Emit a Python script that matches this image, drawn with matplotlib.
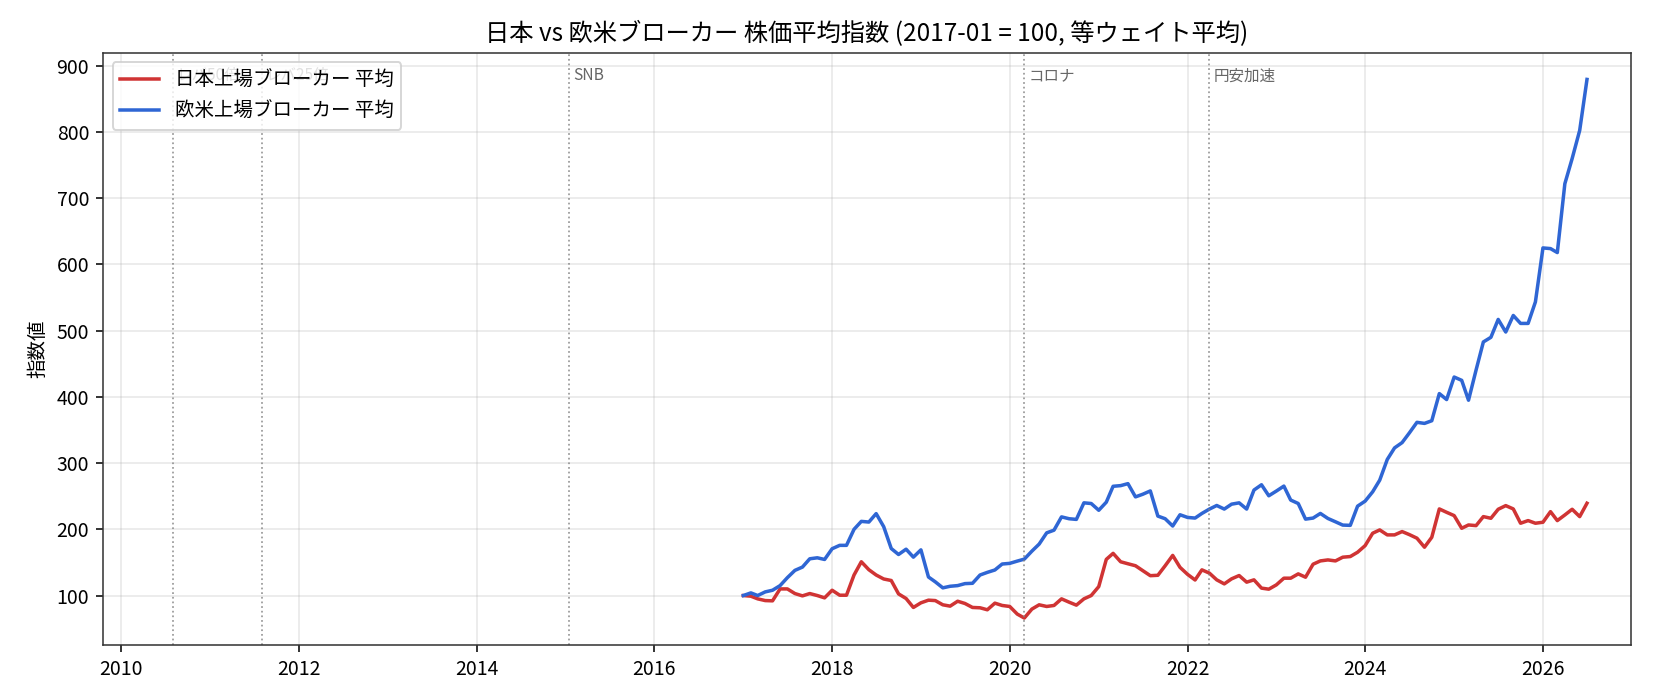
import pandas as pd
import matplotlib
matplotlib.use('Agg')
import matplotlib.pyplot as plt
import matplotlib.dates as mdates
from datetime import datetime

plt.rcParams['font.family'] = ['Noto Sans CJK JP', 'DejaVu Sans']
plt.rcParams['axes.unicode_minus'] = False
plt.rcParams['axes.edgecolor'] = '#333333'

####################################
# Data (monthly, 2017-01 = 100)
####################################

months = pd.date_range('2017-01-01', '2026-07-01', freq='MS')

jp_avg = [
    100, 99, 95, 92.4, 92, 110, 110, 103, 99.5, 103, 100, 96.5,
    108, 100.5, 100.5, 131, 151, 139, 131, 125, 122.7, 102.5, 95.5, 82,
    89, 93, 92.4, 86, 84, 91.4, 88, 82, 81.5, 78.5, 88.5, 85,
    83.5, 72, 66, 79.5, 86, 83.5, 85, 95, 90, 85.5, 95, 100,
    113.5, 154.6, 163.7, 151, 148, 145, 137.6, 130, 130.6, 145, 160.6, 142.6,
    132, 123.5, 138.8, 133.8, 123.7, 117.6, 125.2, 130.2, 120.2, 123.7, 111.2, 109.6,
    116.1, 126.2, 126.2, 132.7, 127.7, 147.3, 152.3, 153.8, 152.3, 157.9, 158.9, 165.4,
    175.4, 194.1, 199.1, 191.6, 191.6, 196.6, 192, 186.6, 173, 188, 230.8, 225.7,
    220.7, 201.6, 206.6, 205.6, 219.2, 216.7, 230.3, 235.8, 230.8, 209.2, 213.2, 209.2,
    210.7, 226.7, 213.2, 221.7, 230.3, 219.2, 239.4,
]

west_avg = [
    100, 104, 100, 105.5, 108, 115, 127, 138, 143, 155.5, 157, 154.5,
    170.7, 175.8, 175.8, 200, 212, 211, 223.7, 204, 171, 162, 170, 158,
    169, 128, 120.7, 111.6, 114, 115, 118, 118.5, 131, 135, 138.6, 147.6,
    148.6, 152, 155, 167, 177.7, 194.7, 198.7, 218.8, 216, 215, 240, 239,
    228.8, 241, 265, 266, 269, 249, 253, 258, 220, 216, 205, 222,
    218, 217, 224, 230.6, 236, 230.6, 238, 240, 230.6, 259.3, 267.3, 250.7,
    257.8, 265.3, 244.2, 239, 215.4, 217, 224, 216.4, 211.4, 206.4, 206, 235,
    242.6, 256.7, 274.3, 305.5, 323, 331, 345.7, 361.6, 360, 364, 405, 396,
    430, 425, 395, 440.5, 483, 490, 517, 498, 523, 511, 511, 543.5,
    625, 624, 618, 722, 760, 802.5, 879.5,
]

# events (date, label)
event_dates = ['2010-08-01', '2011-08-01', '2015-01-15', '2020-03-01', '2022-04-01']
event_labels = ['レバ50倍', 'レバ25倍', 'SNB', 'コロナ', '円安加速']

####################################
# Plot
####################################

fig, ax = plt.subplots(figsize=(12, 5), dpi=140)
fig.subplots_adjust(left=0.0612, right=0.9707, top=0.925, bottom=0.0786)

ax.plot(months, jp_avg, color='#d03434', lw=1.8, label='日本上場ブローカー 平均')
ax.plot(months, west_avg, color='#2f66d4', lw=1.8, label='欧米上場ブローカー 平均')

for d, lab in zip(event_dates, event_labels):
    d = pd.Timestamp(d)
    ax.axvline(d, color='gray', ls=':', lw=0.9, alpha=0.8)
    ax.annotate(lab, xy=(d, 0.975), xycoords=('data', 'axes fraction'),
                xytext=(2, 0), textcoords='offset points',
                fontsize=8, color='#666666', va='top', ha='left')

ax.set_xlim(datetime(2009, 10, 17), datetime(2026, 12, 28))
ax.xaxis.set_major_locator(mdates.YearLocator(2))
ax.xaxis.set_major_formatter(mdates.DateFormatter('%Y'))

ax.set_title('日本 vs 欧米ブローカー 株価平均指数 (2017-01 = 100, 等ウェイト平均)', fontsize=12.5)
ax.set_ylabel('指数値')
ax.grid(True, alpha=0.3)
ax.legend(loc='upper left')

plt.savefig('out.png')
